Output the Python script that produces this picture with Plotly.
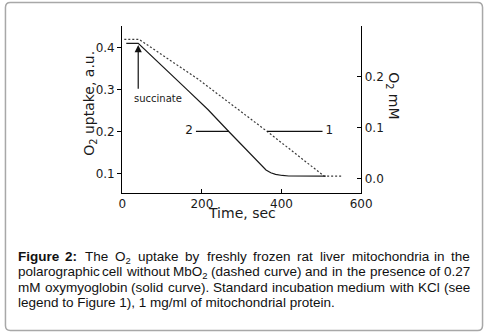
import plotly.graph_objects as go

# ---- data ----
time_dashed = [5, 42, 190, 284, 365, 507, 551]
o2_dashed = [0.419, 0.419, 0.3245, 0.257, 0.199, 0.0935, 0.0935]

time_solid = [10, 40, 162, 215, 268, 337, 349, 361, 373, 385, 402, 418, 511]
o2_solid = [0.4095, 0.4095, 0.300, 0.252, 0.199, 0.132, 0.1195, 0.108, 0.1015,
            0.0975, 0.0950, 0.0938, 0.0935]

x_ticks = [0, 200, 400, 600]
y_left_ticks = [0.1, 0.2, 0.3, 0.4]
y_right_ticks = [0.0, 0.1, 0.2]

label_level = 0.2
leader2_x = [185, 268]
leader1_x = [364, 503]
label2_x = 168
label1_x = 520

succinate_time = 40
succinate_tip = 0.4055
succinate_tail = 0.298

W, H = 495, 336
FONT = "DejaVu Sans"
CAP_FONT = "Liberation Sans, Arial, sans-serif"
INK = "#1a1a1a"


def px(xp):
    return xp / W


def py(yp):
    return 1 - yp / H


fig = go.Figure()
fig.add_trace(go.Scatter(x=time_dashed, y=o2_dashed, mode="lines",
                         line=dict(color="#3a3a3a", width=1.2, dash="2px,2px"),
                         hoverinfo="skip"))
fig.add_trace(go.Scatter(x=time_solid, y=o2_solid, mode="lines",
                         line=dict(color="#1a1a1a", width=1.2),
                         hoverinfo="skip"))
fig.add_trace(go.Scatter(x=leader2_x, y=[label_level] * 2, mode="lines",
                         line=dict(color="#111", width=1.2), hoverinfo="skip"))
fig.add_trace(go.Scatter(x=leader1_x, y=[label_level] * 2, mode="lines",
                         line=dict(color="#111", width=1.2), hoverinfo="skip"))
fig.add_trace(go.Scatter(x=[label2_x, label1_x], y=[label_level] * 2, mode="text",
                         text=["2", "1"], textposition="middle center",
                         textfont=dict(family=FONT, size=12, color=INK),
                         hoverinfo="skip"))
fig.add_trace(go.Scatter(x=[None], y=[None], yaxis="y2", mode="lines",
                         hoverinfo="skip"))

x0, x1 = px(122), px(368.3)
y0, y1 = py(192.7), py(26)

fig.update_layout(
    width=W, height=H,
    margin=dict(l=0, r=0, t=0, b=0),
    paper_bgcolor="white", plot_bgcolor="white",
    showlegend=False,
    font=dict(family=FONT, color=INK),
    xaxis=dict(domain=[x0, x1], range=[0, 600], tickvals=x_ticks,
               ticks="inside", ticklen=4, tickwidth=1, tickcolor="black",
               showline=True, linecolor="black", linewidth=1.3,
               showgrid=False, zeroline=False,
               tickfont=dict(family=FONT, size=12, color=INK)),
    yaxis=dict(domain=[y0, y1], range=[0.054, 0.4507], tickvals=y_left_ticks,
               tickformat=".1f",
               ticks="outside", ticklen=4, tickwidth=1, tickcolor="black",
               showline=True, linecolor="black", linewidth=1.3,
               showgrid=False, zeroline=False,
               tickfont=dict(family=FONT, size=12, color=INK)),
    yaxis2=dict(overlaying="y", side="right", anchor="x",
                range=[-0.0282, 0.2986], tickvals=y_right_ticks,
                tickformat=".1f",
                ticks="inside", ticklen=4, tickwidth=1, tickcolor="black",
                showline=True, linecolor="black", linewidth=1.3,
                showgrid=False, zeroline=False,
                tickfont=dict(family=FONT, size=12, color=INK)),
)

ann = []
# arrow for succinate
ann.append(dict(x=succinate_time, y=succinate_tip, ax=succinate_time, ay=succinate_tail,
                xref="x", yref="y", axref="x", ayref="y", text="",
                showarrow=True, arrowhead=2, arrowsize=1.2, arrowwidth=1.2,
                arrowcolor="#111", standoff=0))
ann.append(dict(x=90, y=0.2786, xref="x", yref="y", text="succinate",
                xanchor="center", yanchor="middle",
                showarrow=False, font=dict(family=FONT, size=10, color=INK)))
# axis titles
ann.append(dict(x=px(88), y=py(103.5), xref="paper", yref="paper",
                xanchor="center", yanchor="middle",
                text="O<sub>2</sub> uptake, a.u.", textangle=-90, showarrow=False,
                font=dict(family=FONT, size=14, color=INK)))
ann.append(dict(x=px(401), y=py(96), xref="paper", yref="paper",
                xanchor="center", yanchor="middle",
                text="O<sub>2</sub> mM", textangle=90, showarrow=False,
                font=dict(family=FONT, size=14, color=INK)))
ann.append(dict(x=px(245), y=py(213.3), xref="paper", yref="paper",
                xanchor="center", yanchor="middle",
                text="Time, sec", showarrow=False,
                font=dict(family=FONT, size=14, color=INK)))

# ---- caption, justified word by word ----
REG = {' ': 278, '(': 333, ')': 333, ',': 278, '.': 278, '/': 278, ':': 278,
       '0': 556, '1': 556, '2': 556, '7': 556,
       'C': 722, 'F': 611, 'K': 667, 'M': 833, 'O': 778, 'S': 667, 'T': 611,
       'a': 556, 'b': 556, 'c': 500, 'd': 556, 'e': 556, 'f': 278, 'g': 556,
       'h': 556, 'i': 222, 'j': 222, 'k': 500, 'l': 222, 'm': 833, 'n': 556,
       'o': 556, 'p': 556, 'q': 556, 'r': 333, 's': 500, 't': 278, 'u': 556,
       'v': 500, 'w': 722, 'x': 500, 'y': 500, 'z': 500}
BOLD = {'F': 611, 'i': 278, 'g': 611, 'u': 611, 'r': 389, 'e': 556, '2': 556, ':': 333}
CS = 13.5


def word_width(plain, bold=False, sub=""):
    tab = BOLD if bold else REG
    w = sum(tab.get(c, 556) for c in plain)
    w += 0.7 * sum(REG.get(c, 556) for c in sub)
    return w * CS / 1000


# (html, plain, bold, sub)
lines = [
    [("<b>Figure</b>", "Figure", True, ""), ("<b>2:</b>", "2:", True, ""),
     ("The", "The", False, ""), ("O<sub>2</sub>", "O", False, "2"),
     ("uptake", "uptake", False, ""), ("by", "by", False, ""),
     ("freshly", "freshly", False, ""), ("frozen", "frozen", False, ""),
     ("rat", "rat", False, ""), ("liver", "liver", False, ""),
     ("mitochondria", "mitochondria", False, ""), ("in", "in", False, ""),
     ("the", "the", False, "")],
    [("polarographic", "polarographic", False, ""), ("cell", "cell", False, ""),
     ("without", "without", False, ""), ("MbO<sub>2</sub>", "MbO", False, "2"),
     ("(dashed", "(dashed", False, ""), ("curve)", "curve)", False, ""),
     ("and", "and", False, ""), ("in", "in", False, ""), ("the", "the", False, ""),
     ("presence", "presence", False, ""), ("of", "of", False, ""),
     ("0.27", "0.27", False, "")],
    [("mM", "mM", False, ""), ("oxymyoglobin", "oxymyoglobin", False, ""),
     ("(solid", "(solid", False, ""), ("curve).", "curve).", False, ""),
     ("Standard", "Standard", False, ""), ("incubation", "incubation", False, ""),
     ("medium", "medium", False, ""), ("with", "with", False, ""),
     ("KCl", "KCl", False, ""), ("(see", "(see", False, "")],
]
last_line = "legend to Figure 1), 1 mg/ml of mitochondrial protein."
baselines = [261, 276.5, 292, 307.5]
LEFT, RIGHT = 14, 481
ASC = 0.905 * CS

for words, base in zip(lines, baselines):
    widths = [word_width(p, b, s) for _, p, b, s in words]
    gap = (RIGHT - LEFT - sum(widths)) / (len(words) - 1)
    xpos = LEFT
    for i, ((html, p, b, s), w) in enumerate(zip(words, widths)):
        last = i == len(words) - 1
        ann.append(dict(x=px(RIGHT if last else xpos), y=py(base - ASC),
                        xref="paper", yref="paper", text=html, showarrow=False,
                        xanchor="right" if last else "left", yanchor="top",
                        borderpad=0, borderwidth=0,
                        font=dict(family=CAP_FONT, size=CS, color="#111")))
        xpos += w + gap
ann.append(dict(x=px(LEFT), y=py(baselines[3] - ASC), xref="paper", yref="paper",
                text=last_line, showarrow=False, xanchor="left", yanchor="top",
                borderpad=0, borderwidth=0,
                font=dict(family=CAP_FONT, size=CS, color="#111")))

fig.update_layout(annotations=ann)

# rounded frame
L, T, R, B, r = 1.5, 2.5, 493.5, 330.5, 5
path = (f"M {px(L + r)},{py(T)} L {px(R - r)},{py(T)} Q {px(R)},{py(T)} {px(R)},{py(T + r)} "
        f"L {px(R)},{py(B - r)} Q {px(R)},{py(B)} {px(R - r)},{py(B)} "
        f"L {px(L + r)},{py(B)} Q {px(L)},{py(B)} {px(L)},{py(B - r)} "
        f"L {px(L)},{py(T + r)} Q {px(L)},{py(T)} {px(L + r)},{py(T)} Z")
fig.add_shape(type="path", path=path, xref="paper", yref="paper",
              line=dict(color="#a8a8a8", width=1.5), layer="above")

fig.write_html("out.html", config={"displayModeBar": False},
               post_script=("document.documentElement.style.overflow='hidden';"
                            "document.body.style.overflow='hidden';"
                            "document.body.style.margin='0';"
                            "document.body.style.padding='0';"))
